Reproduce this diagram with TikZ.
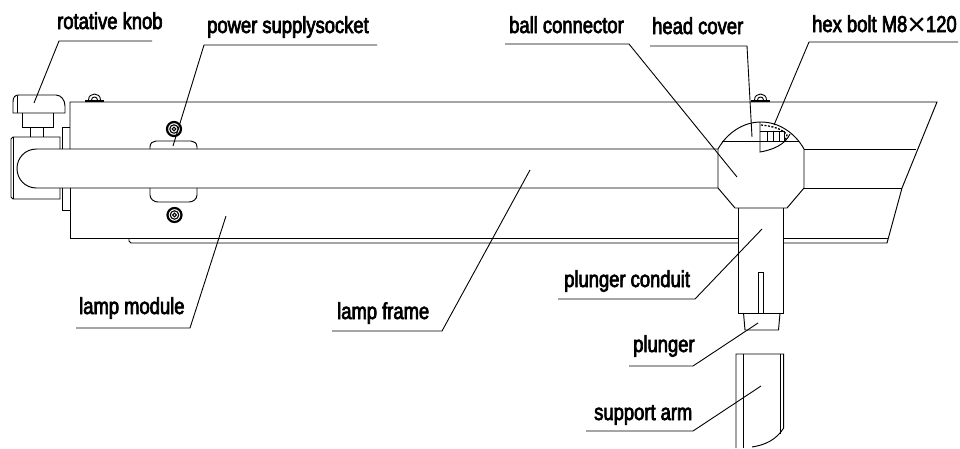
\documentclass[tikz,border=0pt]{standalone}
\usepackage{fontspec}
\setmainfont[FakeStretch=0.8,FakeBold=3]{Liberation Sans}
\newfontfamily\crossfont{Liberation Sans}
\tikzset{
  part/.style={draw=black, line width=0.95pt},
  leader/.style={draw=black, line width=0.9pt},
  tag/.style={anchor=base west, inner sep=0pt, font=\fontsize{23}{23}\selectfont}
}

\begin{document}
\begin{tikzpicture}[x=1pt, y=-1pt]
    \useasboundingbox (0,0) rectangle (960,448);
    % lamp body
    \draw[part] (70,149) -- (70,102) -- (937,102) -- (902,188) -- (887,243) -- (783,243);
    \draw[part] (70,188) -- (70,238) -- (738,238);
    \draw[part] (783,238) -- (888,238);
    \draw[part] (738,243) -- (131,243) -- (129,241) -- (129,238);
    \draw[part] (804,149) -- (916,149);
    \draw[part] (804,188) -- (902,188);
    % tube
    \draw[part] (718,149) -- (36.5,149) .. controls (25,149) and (17,158) .. (17,168.5)
      .. controls (17,179) and (25,188) .. (36.5,188) -- (718,188);
    % knob end
    \draw[part] (13,113) -- (13,102) .. controls (13,97) and (15,95) .. (19,95) -- (56,95)
      .. controls (61,95) and (65,100) .. (65,106) -- (65,113) -- cycle;
    \draw[part] (17,113) -- (17,96);
    \draw[part] (22,113) -- (22,127) -- (53,127) -- (53,113);
    \draw[part] (30.5,127) -- (30.5,137);
    \draw[part] (43.5,127) -- (43.5,137);
    \draw[part] (60,149) -- (60,137) -- (13,137) -- (11,139) -- (11,197) -- (13,199) -- (60,199) -- (60,188);
    \draw[part] (13,137) -- (13,199);
    \draw[part] (62,149) -- (62,127) -- (70,127);
    \draw[part] (62,188) -- (62,210) -- (70,210);
    % socket
    \draw[part] (150,149) -- (150,147) .. controls (150,143) and (153,141) .. (156,141) -- (191,141)
      .. controls (194,141) and (197,143) .. (197,147) -- (197,149);
    \draw[part] (150,188) -- (150,195) .. controls (150,199) and (154,202) .. (158,202) -- (189,202)
      .. controls (193,202) and (197,199) .. (197,195) -- (197,188);
    \foreach \cy/\cx in {129/174, 215/174.5} {
      \draw[line width=2.2pt] (\cx,\cy) circle [radius=7pt];
      \draw[line width=1.1pt] (\cx,\cy) circle [radius=4.2pt];
      \draw[line width=1.1pt] (\cx,\cy) circle [radius=1.8pt];
    }
    % small bolts on top
    \foreach \bx in {94.5, 760.5} {
      \draw[line width=1.8pt] (\bx-9.5,101) -- (\bx+9.5,101);
      \draw[line width=0.9pt] (\bx-6,100) .. controls (\bx-6,92) and (\bx+6,92) .. (\bx+6,100);
      \draw[line width=0.9pt] (\bx-3,100) .. controls (\bx-3,96) and (\bx+3,96) .. (\bx+3,100);
    }
    % ball connector
    \draw[part] (718,149) .. controls (727,133) and (743,122) .. (761,122)
      .. controls (779,122) and (795,133) .. (804,149) -- (804,188) -- (787,208) -- (735,208) -- (718,188) -- cycle;
    \draw[part] (722,141.5) -- (799,141.5);
    % hex bolt in the cover
    \draw[part] (760,122) -- (760,152) .. controls (772,150) and (785,145) .. (790,134);
    \draw[part] (760,131.5) -- (784,131.5) -- (784,141.5);
    \foreach \bx in {767,773,779} {
      \draw[line width=0.8pt] (\bx,131.5) -- (\bx,141.5);
    }
    \draw[line width=1.3pt, dash pattern=on 2pt off 1.5pt] (761,125) .. controls (772,126) and (783,129) .. (787,135) -- (785,141);
    % plunger conduit
    \draw[part] (738.3,208) -- (738.3,313) -- (783,313) -- (783,208);
    \draw[part] (758.7,313) -- (758.7,272.7) -- (763.3,272.7) -- (763.3,313);
    % plunger
    \draw[part] (743.5,313) -- (745,330) -- (778.5,330) -- (780,313);
    % support arm
    \draw[part] (736,448) -- (736,354) -- (783.7,354) -- (783.7,428)
      .. controls (776,440) and (765,445) .. (752,447);
    \draw[part] (743,354) -- (743,448);
    \draw[part] (780,354) -- (780,434);

    % labels
    \node[tag] (knoblabel) at (57,29) {rotative knob};
    \node[tag] (socketlabel) at (207,33) {power supplysocket};
    \node[tag] (balllabel) at (509,33) {ball connector};
    \node[tag] (coverlabel) at (652,34) {head cover};
    \node[tag] (boltlabel) at (812,32) {hex bolt M8\raisebox{-3pt}{\crossfont\fontsize{32}{23}\selectfont×}120};
    \node[tag] (modulelabel) at (79,314) {lamp module};
    \node[tag] (framelabel) at (337,319) {lamp frame};
    \node[tag] (conduitlabel) at (564,287) {plunger conduit};
    \node[tag] (plungerlabel) at (633,352) {plunger};
    \node[tag] (armlabel) at (594,420) {support arm};

    % leader ends
    \coordinate (knobtip) at (34,103);
    \coordinate (sockettip) at (173,146);
    \coordinate (balltip) at (737,177);
    \coordinate (covertip) at (752,137);
    \coordinate (bolttip) at (774,125);
    \coordinate (moduletip) at (226,216);
    \coordinate (frametip) at (530,170);
    \coordinate (conduittip) at (762,229);
    \coordinate (plungertip) at (758,323);
    \coordinate (armtip) at (761,386);

    \draw[leader] (knobtip) -- (59,41) -- (152,41);
    \draw[leader] (sockettip) -- (204,45) -- (377,45);
    \draw[leader] (balltip) -- (629,44) -- (505,44);
    \draw[leader] (covertip) -- (747,46) -- (650,46);
    \draw[leader] (bolttip) -- (809,42) -- (958,42);
    \draw[leader] (moduletip) -- (190,328) -- (76,328);
    \draw[leader] (frametip) -- (442,331) -- (332,331);
    \draw[leader] (conduittip) -- (695,299) -- (558,299);
    \draw[leader] (plungertip) -- (693,366) -- (629,366);
    \draw[leader] (armtip) -- (693,431) -- (586,431);
  \end{tikzpicture}
\end{document}
